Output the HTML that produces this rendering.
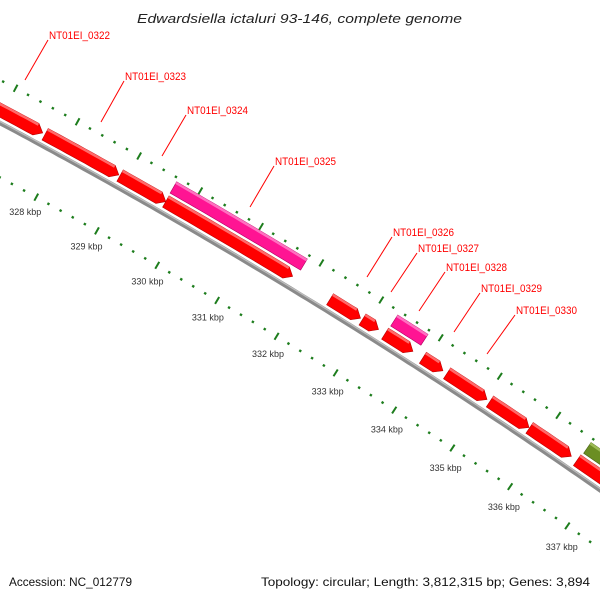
<!DOCTYPE html>
<html><head><meta charset="utf-8"><style>
html,body{margin:0;padding:0;background:#fff;width:600px;height:600px;overflow:hidden;}
svg{display:block;font-family:"Liberation Sans",sans-serif;}
</style></head><body>
<svg id="map" width="600" height="600" viewBox="0 0 600 600" xmlns="http://www.w3.org/2000/svg">
<rect width="600" height="600" fill="#fff"/>
<text x="137" y="23" font-size="13" font-style="italic" fill="#222" textLength="325" lengthAdjust="spacingAndGlyphs">Edwardsiella ictaluri 93-146, complete genome</text>
<g id="ticks"></g>
<g id="bb"></g>
<g id="feats"></g>
<g id="labels"></g>
<text x="9" y="586" font-size="12" fill="#111" textLength="123" lengthAdjust="spacingAndGlyphs">Accession: NC_012779</text>
<text x="261" y="586" font-size="12" fill="#111" textLength="329" lengthAdjust="spacingAndGlyphs">Topology: circular; Length: 3,812,315 bp; Genes: 3,894</text>
</svg>
<script>
// data
const featStart = [326000,327680,328900,329650,332375,332920,333300,333940,334350,335080,335760,336580,329643,333310,336600];
const featEnd   = [327640,328880,329650,331750,332887,333190,333770,334280,335030,335750,336480,337600,331800,333820,337600];
const featRow   = [0,0,0,0,0,0,0,0,0,0,0,0,1,1,1];
const featType  = ['cds','cds','cds','cds','cds','cds','cds','cds','cds','cds','cds','cds','pink','pink','olive'];
const tickKbp = [325,326,327,328,329,330,331,332,333,334,335,336,337,338,339];
const labelNames = ['NT01EI_0322','NT01EI_0323','NT01EI_0324','NT01EI_0325','NT01EI_0326','NT01EI_0327','NT01EI_0328','NT01EI_0329','NT01EI_0330'];
const labelX = [49,125,187,275,393,418,446,481,516];
const labelY = [39,80,114,165,236,252,271,292,314];
const labelTipX = [25,101,162,250,367,391,419,454,487];
const labelTipY = [80,122,156,207,277,292,311,332,354];

const NS='http://www.w3.org/2000/svg';
const Cx=-2800, Cy=5373, R=5950;
const th0=Math.atan2(298-Cy,300-Cx), dth=70/R;
function ang(pos){return th0+(pos-332000)/1000*dth;}
function pt(pos,r){const a=ang(pos);return [Cx+r*Math.cos(a),Cy+r*Math.sin(a)];}
function mk(tag,attrs,parent){const e=document.createElementNS(NS,tag);for(const k in attrs)e.setAttribute(k,attrs[k]);parent.appendChild(e);return e;}
function arcPts(p0,p1,r){const out=[];const n=Math.max(2,Math.ceil((p1-p0)/100));for(let i=0;i<=n;i++){out.push(pt(p0+(p1-p0)*i/n,r));}return out;}
function fmt(ps){return ps.map(p=>p[0].toFixed(1)+','+p[1].toFixed(1)).join(' ');}

// ticks
const tg=document.getElementById('ticks');
for(let b=325000;b<=339000;b+=200){
  const major=(b%1000===0);
  [R+38,R-48].forEach(r=>{
    const h=major?4:1.2;
    const a=pt(b,r-h),c=pt(b,r+h);
    const l=mk('line',{x1:a[0],y1:a[1],x2:c[0],y2:c[1],stroke:'#1d7d1d','stroke-width':major?2:2.4},tg);
    
    
  });
}
tickKbp.forEach(k=>{
  const p=pt(k*1000,R-48);
  const t=mk('text',{x:p[0]-11+(k-328)*0.6,y:p[1]+18+(k-328)*0.7,'text-anchor':'middle','font-size':'9',fill:'#333'},tg);
  t.textContent=k+' kbp';
  
  
});

// backbone
const bg=document.getElementById('bb');
const b1=mk('polyline',{points:fmt(arcPts(320000,345000,R)),fill:'none',stroke:'#8a8a8a','stroke-width':4.5},bg);


const b2=mk('polyline',{points:fmt(arcPts(320000,345000,R+1.3)),fill:'none',stroke:'#bdbdbd','stroke-width':1.3},bg);



// features
const fg=document.getElementById('feats');
const colors={cds:['#ff0000','#ff6a6a','#b80000'],pink:['#ff1493','#ff70c0','#b00060'],olive:['#6b8e23','#9cbb55','#4a6418']};
for(let i=0;i<featStart.length;i++){
  const r0=featRow[i]===0?R+5:R+21, r1=r0+13, rm=(r0+r1)/2;
  const s=featStart[i], e=featEnd[i];
  const arrow=featType[i]==='cds';
  const ah=Math.min(110,(e-s)*0.4);
  const eb=arrow?e-ah:e;
  let ps=arcPts(s,eb,r1);
  if(arrow)ps.push(pt(e,rm));
  ps=ps.concat(arcPts(s,eb,r0).reverse());
  const col=colors[featType[i]];
  const g=mk('g',{},fg);
  
  
  mk('polygon',{points:fmt(ps),fill:col[0],stroke:col[2],'stroke-width':0.6},g);
  const hl=arcPts(s,eb,r1-2.5).concat(arcPts(s,eb,r1).reverse());
  mk('polygon',{points:fmt(hl),fill:col[1]},g);
}

// labels
const lg=document.getElementById('labels');
labelNames.forEach((n,i)=>{
  const l=mk('line',{x1:labelX[i]-1,y1:labelY[i]+1,x2:labelTipX[i],y2:labelTipY[i],stroke:'#ff0000','stroke-width':1},lg);
  
  
  const t=mk('text',{x:labelX[i],y:labelY[i],'font-size':'11',fill:'#ff0000',textLength:'61',lengthAdjust:'spacingAndGlyphs'},lg);
  t.textContent=n;
  
  
});
</script>
</body></html>
